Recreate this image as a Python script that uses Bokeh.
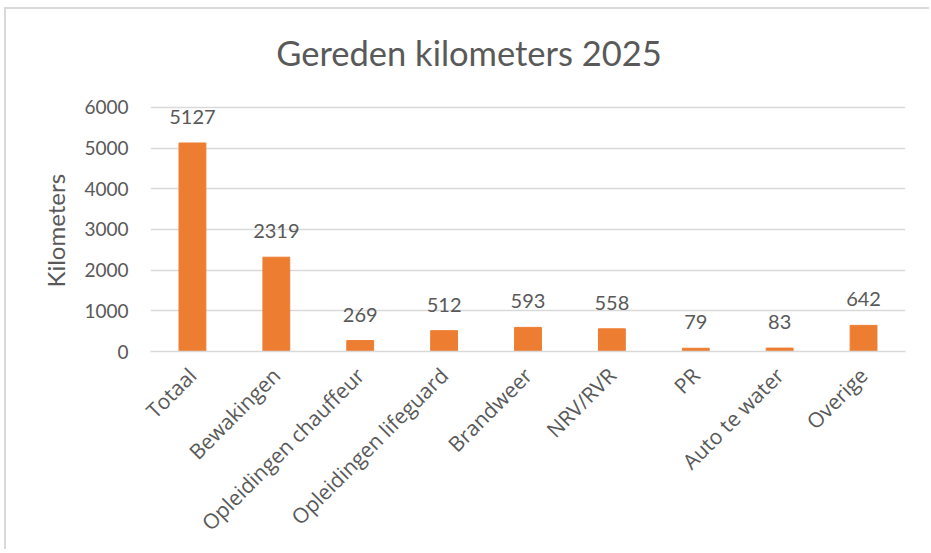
import math
from bokeh.plotting import figure
from bokeh.models import ColumnDataSource, FixedTicker, Label, Title
from bokeh.embed import file_html
from bokeh.resources import INLINE
from bokeh.core.properties import value

categories = ["Totaal", "Bewakingen", "Opleidingen chauffeur", "Opleidingen lifeguard",
              "Brandweer", "NRV/RVR", "PR", "Auto te water", "Overige"]
kilometers = [5127, 2319, 269, 512, 593, 558, 79, 83, 642]
y_ticks = [0, 1000, 2000, 3000, 4000, 5000, 6000]
title_text = "Gereden kilometers 2025"
y_label = "Kilometers"

TEXT = "#595959"
ORANGE = "#ED7D31"
GRID = "#D9D9D9"
FONT = "Lato"

src = ColumnDataSource(dict(cat=categories, km=kilometers, lbl=[str(v) for v in kilometers]))

# frame extends above the 6000 line so the title can sit inside it
p = figure(x_range=categories, y_range=(0, 7893), width=929, height=549,
           output_backend="svg", toolbar_location=None,
           min_border_left=150, min_border_right=24, min_border_top=30, min_border_bottom=198)
p.outline_line_color = None
p.border_fill_alpha = 0
p.background_fill_color = "white"
# thin chart border on the top and left edges, drawn as host background
p.styles = {
    "background": ("linear-gradient(#D9D9D9,#D9D9D9) 4px 7px / 100% 2px no-repeat, "
                   "linear-gradient(#D9D9D9,#D9D9D9) 4px 7px / 2px 100% no-repeat, white"),
}

p.vbar(x="cat", top="km", width=0.32, source=src, fill_color=ORANGE, line_color=ORANGE)
p.text(x="cat", y="km", text="lbl", source=src, text_align="center", text_baseline="bottom",
       y_offset=-19, text_font=value(FONT), text_font_size="20px", text_color=TEXT)

p.xgrid.grid_line_color = None
p.ygrid.grid_line_color = GRID
p.ygrid.grid_line_width = 1.5
p.yaxis.ticker = FixedTicker(ticks=y_ticks)

for ax in (p.xaxis, p.yaxis):
    ax.axis_line_color = None
    ax.major_tick_line_color = None
    ax.minor_tick_line_color = None
    ax.major_label_text_color = TEXT
    ax.major_label_text_font = FONT
    ax.major_label_text_font_size = "19px"

p.xaxis.axis_line_color = GRID
p.xaxis.axis_line_width = 1.5
p.xaxis.major_label_orientation = math.pi / 4
p.xaxis.major_label_text_font = "Open Sans"
p.xaxis.major_label_text_font_size = "21px"
p.xaxis.major_label_standoff = 14
p.yaxis.major_label_standoff = 16

# y-axis title, placed so it is centred on the 0..6000 region
p.add_layout(Title(text=y_label, align="left", offset=64, standoff=24,
                   text_font=FONT, text_font_size="24px", text_font_style="normal",
                   text_color=TEXT), "left")

p.add_layout(Label(x=3.797, y=7352, text=title_text, text_align="center",
                   text_baseline="middle", text_font=FONT, text_font_size="34.5px",
                   text_color=TEXT))

open("out.html", "w").write(file_html(p, INLINE))
